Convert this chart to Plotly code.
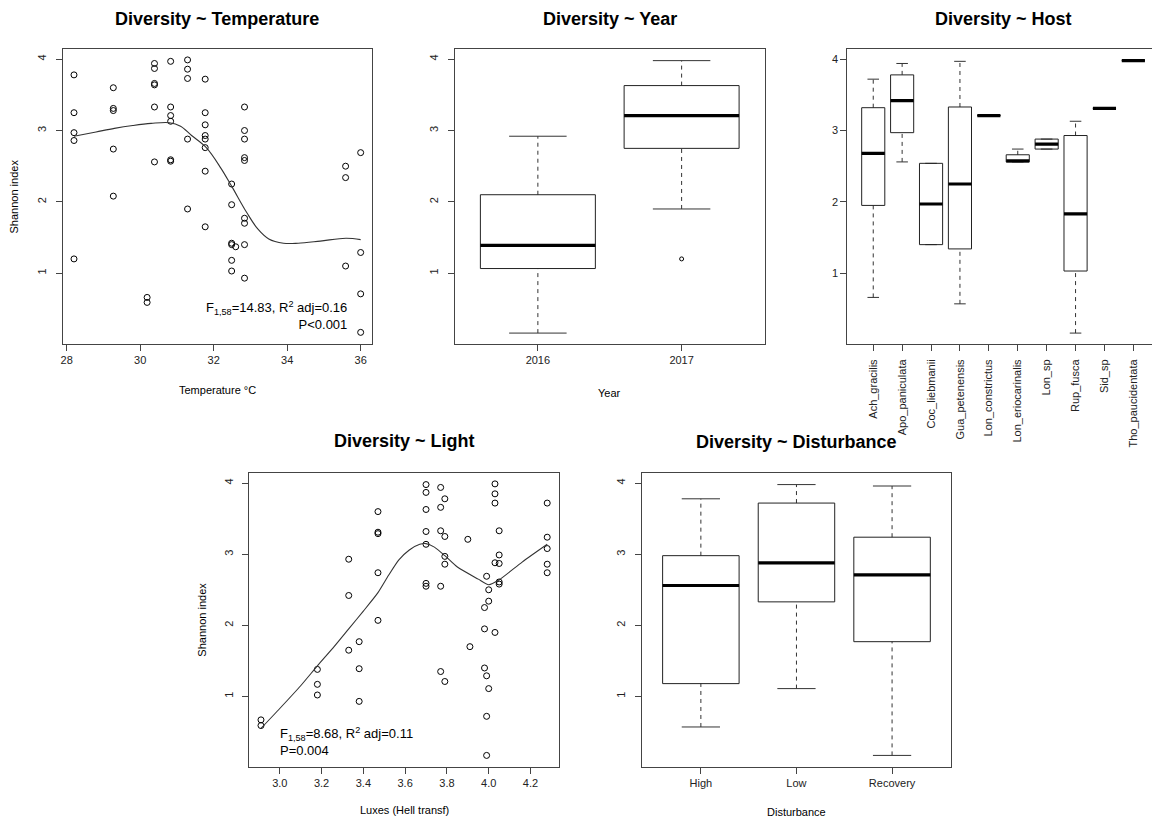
import plotly.graph_objects as go

W, H = 1152, 821
FONT = "Liberation Sans, Arial, Helvetica, sans-serif"
INK = "#222222"

# ---------------- data ----------------
# Diversity ~ Temperature
temp_x = [28.2, 28.2, 28.2, 28.2, 28.2,
          29.27, 29.27, 29.27, 29.27, 29.27,
          30.39, 30.39, 30.39, 30.39, 30.39, 30.39,
          30.19, 30.19,
          30.83, 30.83, 30.83, 30.83, 30.83, 30.83,
          31.29, 31.29, 31.29, 31.29, 31.29,
          31.77, 31.77, 31.77, 31.77, 31.77, 31.77, 31.77, 31.77,
          32.84, 32.84, 32.84, 32.84, 32.84, 32.84, 32.84, 32.84, 32.84,
          32.49, 32.49, 32.49, 32.49, 32.49, 32.49,
          32.6,
          35.59, 35.59, 35.59,
          36.0, 36.0, 36.0, 36.0]
temp_y = [3.78, 3.25, 2.97, 2.86, 1.20,
          3.60, 3.31, 3.28, 2.74, 2.08,
          3.94, 3.87, 3.66, 3.64, 3.33, 2.56,
          0.66, 0.59,
          3.97, 3.33, 3.21, 3.13, 2.59, 2.57,
          3.99, 3.86, 3.73, 2.88, 1.90,
          3.72, 3.25, 3.08, 2.93, 2.88, 2.76, 2.43, 1.65,
          3.33, 3.00, 2.88, 2.62, 2.58, 1.77, 1.70, 1.40, 0.93,
          2.25, 1.96, 1.42, 1.40, 1.18, 1.03,
          1.37,
          2.50, 2.34, 1.10,
          2.69, 1.29, 0.71, 0.17]
temp_fit_x = [28.2, 28.8, 29.3, 29.8, 30.3, 30.8, 31.1, 31.4, 31.8, 32.2, 32.5,
              32.9, 33.2, 33.5, 33.9, 34.3, 34.9, 35.6, 36.0]
temp_fit_y = [2.92, 2.98, 3.03, 3.07, 3.10, 3.11, 3.06, 2.93, 2.76, 2.47, 2.21,
              1.85, 1.62, 1.48, 1.42, 1.42, 1.45, 1.49, 1.47]
temp_ticks = [28, 30, 32, 34, 36]

# Diversity ~ Year (box statistics)
year_labels = ["2016", "2017"]
year_lo = [0.16, 1.90]
year_q1 = [1.065, 2.75]
year_med = [1.39, 3.21]
year_q3 = [2.10, 3.63]
year_hi = [2.92, 3.98]
year_out_idx = [2]
year_out_val = [1.20]

# Diversity ~ Host (box statistics)
host_labels = ["Ach_gracilis", "Apo_paniculata", "Coc_liebmanii", "Gua_petenensis",
               "Lon_constrictus", "Lon_eriocarinalis", "Lon_sp", "Rup_fusca",
               "Sid_sp", "Tho_paucidentata"]
host_lo = [0.66, 2.56, 1.40, 0.57, 3.21, 2.56, 2.74, 0.16, 3.31, 3.98]
host_q1 = [1.95, 2.97, 1.40, 1.34, 3.21, 2.56, 2.74, 1.03, 3.31, 3.98]
host_med = [2.68, 3.42, 1.97, 2.25, 3.21, 2.575, 2.81, 1.83, 3.31, 3.98]
host_q3 = [3.32, 3.78, 2.54, 3.33, 3.21, 2.66, 2.88, 2.93, 3.31, 3.98]
host_hi = [3.72, 3.94, 2.54, 3.97, 3.21, 2.74, 2.88, 3.13, 3.31, 3.98]

# Diversity ~ Light
light_x = [3.47, 3.47, 3.47, 3.47, 3.47,
           3.33, 3.33, 3.33,
           3.38, 3.38, 3.38,
           3.18, 3.18, 3.18,
           2.91, 2.91,
           3.70, 3.70, 3.70, 3.70, 3.70, 3.70, 3.70,
           3.77, 3.77, 3.77, 3.77, 3.77,
           3.79, 3.79, 3.79, 3.79, 3.79,
           3.90, 3.91,
           4.03, 4.03, 4.03, 4.03, 4.03,
           4.05, 4.05, 4.05, 4.05, 4.05,
           3.99, 3.99, 3.99, 3.99,
           4.00, 4.00, 4.00,
           3.98, 3.98, 3.98,
           4.28, 4.28, 4.28, 4.28, 4.28]
light_y = [3.60, 3.31, 3.29, 2.74, 2.07,
           2.93, 2.42, 1.65,
           1.77, 1.39, 0.93,
           1.38, 1.17, 1.02,
           0.67, 0.59,
           3.98, 3.87, 3.63, 3.32, 3.14, 2.59, 2.55,
           3.94, 3.66, 3.33, 2.55, 1.35,
           3.78, 3.25, 2.97, 2.86, 1.21,
           3.21, 1.70,
           3.99, 3.85, 3.72, 2.88, 1.90,
           3.33, 2.99, 2.87, 2.61, 2.58,
           2.69, 1.29, 0.72, 0.17,
           2.50, 2.34, 1.11,
           2.25, 1.95, 1.40,
           3.72, 3.24, 3.08, 2.86, 2.74]
light_fit_x = [2.91, 3.00, 3.10, 3.18, 3.26, 3.33, 3.40, 3.47, 3.52, 3.57, 3.62,
               3.67, 3.70, 3.74, 3.79, 3.85, 3.95, 4.00, 4.05, 4.16, 4.28]
light_fit_y = [0.55, 0.83, 1.15, 1.43, 1.70, 1.95, 2.20, 2.46, 2.70, 2.92, 3.06,
               3.14, 3.15, 3.10, 2.98, 2.82, 2.65, 2.57, 2.64, 2.89, 3.14]
light_ticks = [3.0, 3.2, 3.4, 3.6, 3.8, 4.0, 4.2]

# Diversity ~ Disturbance (box statistics)
dist_labels = ["High", "Low", "Recovery"]
dist_lo = [0.57, 1.11, 0.17]
dist_q1 = [1.18, 2.33, 1.77]
dist_med = [2.56, 2.88, 2.71]
dist_q3 = [2.98, 3.72, 3.24]
dist_hi = [3.78, 3.98, 3.96]

shannon_ticks = [1, 2, 3, 4]

# ---------------- helpers ----------------
def px(x):
    return x / W


def py(y):
    return 1 - y / H


fig = go.Figure()

HALF = 0.4   # half box width (category units)
CAP = 0.2    # half staple width


def add_boxes(n, lo, q1, med, q3, hi):
    xa = "x" if n == 1 else "x%d" % n
    ya = "y" if n == 1 else "y%d" % n
    bx, by, mx, my, wx, wy, cx, cy = [], [], [], [], [], [], [], []
    for i in range(len(q1)):
        c = i + 1
        bx += [c - HALF, c + HALF, c + HALF, c - HALF, c - HALF, None]
        by += [q1[i], q1[i], q3[i], q3[i], q1[i], None]
        mx += [c - HALF, c + HALF, None]
        my += [med[i], med[i], None]
        if hi[i] > q3[i]:
            wx += [c, c, None]
            wy += [q3[i], hi[i], None]
        if lo[i] < q1[i]:
            wx += [c, c, None]
            wy += [lo[i], q1[i], None]
        cx += [c - CAP, c + CAP, None, c - CAP, c + CAP, None]
        cy += [hi[i], hi[i], None, lo[i], lo[i], None]
    common = dict(xaxis=xa, yaxis=ya, mode="lines", showlegend=False, hoverinfo="skip")
    fig.add_trace(go.Scatter(x=wx, y=wy, line=dict(color="#333333", width=1, dash="4px,4px"), **common))
    fig.add_trace(go.Scatter(x=cx, y=cy, line=dict(color="#333333", width=1), **common))
    fig.add_trace(go.Scatter(x=bx, y=by, line=dict(color=INK, width=1), **common))
    fig.add_trace(go.Scatter(x=mx, y=my, line=dict(color="black", width=3.2), **common))


# Panel 1: temperature scatter + smoother
fig.add_trace(go.Scatter(x=temp_x, y=temp_y, mode="markers", xaxis="x", yaxis="y",
                         marker=dict(symbol="circle-open", size=6, color="black", line=dict(width=1)),
                         showlegend=False))
fig.add_trace(go.Scatter(x=temp_fit_x, y=temp_fit_y, mode="lines", xaxis="x", yaxis="y",
                         line=dict(color="#333333", width=1.1, shape="spline", smoothing=1.0),
                         showlegend=False))

# Panel 2: year boxplot
add_boxes(2, year_lo, year_q1, year_med, year_q3, year_hi)
fig.add_trace(go.Scatter(x=year_out_idx, y=year_out_val, mode="markers", xaxis="x2", yaxis="y2",
                         marker=dict(symbol="circle-open", size=4, color="black", line=dict(width=1)),
                         showlegend=False))

# Panel 3: host boxplot
add_boxes(3, host_lo, host_q1, host_med, host_q3, host_hi)

# Panel 4: light scatter + smoother
fig.add_trace(go.Scatter(x=light_x, y=light_y, mode="markers", xaxis="x4", yaxis="y4",
                         marker=dict(symbol="circle-open", size=6, color="black", line=dict(width=1)),
                         showlegend=False))
fig.add_trace(go.Scatter(x=light_fit_x, y=light_fit_y, mode="lines", xaxis="x4", yaxis="y4",
                         line=dict(color="#333333", width=1.1, shape="spline", smoothing=0.6),
                         showlegend=False))

# Panel 5: disturbance boxplot
add_boxes(5, dist_lo, dist_q1, dist_med, dist_q3, dist_hi)

# ---------------- axes ----------------
YR = [0.007, 4.143]
tickfont = dict(family=FONT, size=11, color="#222222")


def axis_common():
    return dict(showline=True, linecolor="#444444", linewidth=1, mirror=True,
                ticks="outside", ticklen=6, tickcolor="#444444", tickwidth=1,
                showgrid=False, zeroline=False, tickfont=tickfont, fixedrange=True)


top = [py(49), py(344)]
bot = [py(473), py(767)]

layout = dict(width=W, height=H, margin=dict(l=0, r=0, t=0, b=0),
              paper_bgcolor="white", plot_bgcolor="white", showlegend=False)

layout["xaxis"] = dict(axis_common(), domain=[px(60.7), px(370.7)], range=[27.89, 36.31],
                       tickvals=temp_ticks, anchor="y")
layout["yaxis"] = dict(axis_common(), domain=[top[1], top[0]], range=YR, tickvals=shannon_ticks,
                       tickangle=-90, anchor="x", ticklabelstandoff=5)

layout["xaxis2"] = dict(axis_common(), domain=[px(453.3), px(764.3)], range=[0.42, 2.58],
                        tickvals=[1, 2], ticktext=year_labels, anchor="y2")
layout["yaxis2"] = dict(axis_common(), domain=[top[1], top[0]], range=YR, tickvals=shannon_ticks,
                        tickangle=-90, anchor="x2", ticklabelstandoff=5)

layout["xaxis3"] = dict(axis_common(), domain=[px(846.7), 1.0], range=[0.1, 10.645],
                        tickvals=list(range(1, len(host_labels) + 1)), ticktext=host_labels,
                        tickangle=-90, anchor="y3", ticklabelstandoff=4)
layout["yaxis3"] = dict(axis_common(), domain=[top[1], top[0]], range=YR, tickvals=shannon_ticks,
                        tickangle=0, anchor="x3", mirror=False)

layout["xaxis4"] = dict(axis_common(), domain=[px(247.7), px(558.3)], range=[2.854, 4.338],
                        tickvals=light_ticks, tickformat=".1f", anchor="y4")
layout["yaxis4"] = dict(axis_common(), domain=[bot[1], bot[0]], range=YR, tickvals=shannon_ticks,
                        tickangle=-90, anchor="x4", ticklabelstandoff=5)

layout["xaxis5"] = dict(axis_common(), domain=[px(640.7), px(951)], range=[0.38, 3.62],
                        tickvals=[1, 2, 3], ticktext=dist_labels, anchor="y5")
layout["yaxis5"] = dict(axis_common(), domain=[bot[1], bot[0]], range=YR, tickvals=shannon_ticks,
                        tickangle=-90, anchor="x5", ticklabelstandoff=5)

fig.update_layout(**layout)

# ---------------- text ----------------
def note(x, y, text, size=11, bold=False, angle=0, xanchor="center", align="center"):
    t = "<b>%s</b>" % text if bold else text
    fig.add_annotation(x=px(x), y=py(y), xref="paper", yref="paper", text=t, showarrow=False,
                       textangle=angle, xanchor=xanchor, yanchor="middle", align=align,
                       font=dict(family=FONT, size=size, color="black"))


TS = 18
note(215.5, 19, "Diversity ~ Temperature", TS, True)
note(609, 19, "Diversity ~ Year", TS, True)
note(1003, 19, "Diversity ~ Host", TS, True)
note(403, 441, "Diversity ~ Light", TS, True)
note(796, 442, "Diversity ~ Disturbance", TS, True)

note(13, 196.5, "Shannon index", 11, angle=-90)
note(200, 620, "Shannon index", 11, angle=-90)
note(215.5, 390, "Temperature °C", 11)
note(609, 393, "Year", 11)
note(403, 810, "Luxes (Hell transf)", 11)
note(796, 812, "Disturbance", 11)

fig.add_annotation(x=px(348), y=py(315), xref="paper", yref="paper",
                   text="F<sub>1,58</sub>=14.83, R<sup>2</sup> adj=0.16<br>P&lt;0.001",
                   showarrow=False, xanchor="right", yanchor="middle", align="right",
                   font=dict(family=FONT, size=13, color="black"))
fig.add_annotation(x=px(276), y=py(741), xref="paper", yref="paper",
                   text="F<sub>1,58</sub>=8.68, R<sup>2</sup> adj=0.11<br>P=0.004",
                   showarrow=False, xanchor="left", yanchor="middle", align="left",
                   font=dict(family=FONT, size=13, color="black"))

fig.write_html("out.html")
